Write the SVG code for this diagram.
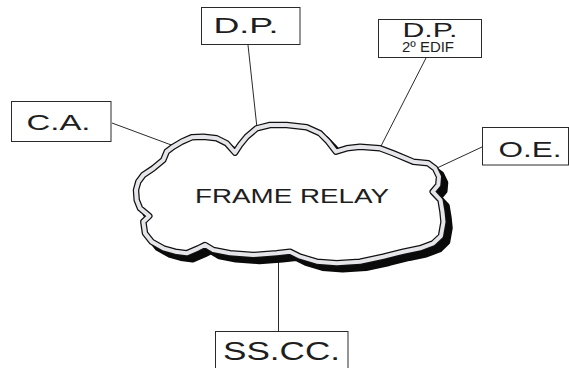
<svg xmlns="http://www.w3.org/2000/svg" width="569" height="368" viewBox="0 0 569 368">
  <style>
    .box { fill: #ffffff; stroke: #2a2a2a; stroke-width: 1; }
    .lbl { font-family: "Liberation Sans", Arial, sans-serif; fill: #1e1e1e; }
    .wire { stroke: #2a2a2a; stroke-width: 1; fill: none; }
    .cloud-edge { fill: #ffffff; stroke: #111111; stroke-width: 6.5; stroke-linejoin: round; }
    .cloud-band { fill: none; stroke: #e6e6ea; stroke-width: 4; stroke-linejoin: round; }
    .cloud-shadow { fill: #0a0a0a; stroke: #0a0a0a; stroke-width: 6.5; stroke-linejoin: round; }
  </style>
  <defs>
    <path id="cloud-shape" d="M235,152.7 L226.7,143.3 L216.7,138.3 L203.3,136.7 L191.7,137.3 L181.7,141.7 L173.3,146.7 L166.7,151.7 L163.3,160 L153.3,168.3 L143.3,175 L138.3,181.7 L136,190 L136.7,200 L140,208.3 L149.3,216 L143.3,221.7 L145,233.3 L151.7,241.7 L163.3,248.3 L175,251.7 L186.7,253.3 L198.3,248.3 L205,245 L213.3,250 L230,253.3 L253.3,255 L276.7,253.3 L290,251.7 L300,256.7 L316.7,261.7 L336.7,263.3 L360,261.7 L383.3,256.7 L403.3,251.7 L420,248.3 L433.3,243.3 L441,236 L443.5,222 L442.5,212 L440.5,200 L432.7,191.7 L438.3,185 L439,176.7 L435,168.3 L428.3,163.3 L413.3,161.7 L393.3,153.3 L380,148.3 L360,146.7 L346.7,148.3 L336,151.7 L328.3,141.7 L320,133.3 L306.7,127.3 L286.7,125 L270,125 L256.7,128.3 L246.7,136.7 L240,145 Z"/>
  </defs>

  <!-- links from each site to the network -->
  <g id="connectors">
    <line class="wire" x1="112" y1="123" x2="174" y2="146"/>
    <line class="wire" x1="248" y1="45" x2="257" y2="128"/>
    <line class="wire" x1="426" y1="58" x2="380" y2="148"/>
    <line class="wire" x1="482" y1="147" x2="437" y2="168"/>
    <line class="wire" x1="278.5" y1="262" x2="278.5" y2="332"/>
  </g>

  <!-- network cloud -->
  <g id="frame-relay">
    <use href="#cloud-shape" class="cloud-shadow" transform="translate(6,6)"/>
    <use href="#cloud-shape" class="cloud-edge"/>
    <use href="#cloud-shape" class="cloud-band"/>
    <text class="lbl" x="195" y="203" font-size="20" textLength="194" lengthAdjust="spacingAndGlyphs">FRAME RELAY</text>
  </g>

  <g id="ca">
    <rect class="box" x="11.5" y="101.5" width="99.5" height="40"/>
    <text class="lbl" x="26.5" y="130" font-size="22.4" textLength="64" lengthAdjust="spacingAndGlyphs">C.A.</text>
  </g>

  <g id="dp">
    <rect class="box" x="201.5" y="7.5" width="98.5" height="37"/>
    <text class="lbl" x="213.5" y="33.3" font-size="22.5" textLength="65" lengthAdjust="spacingAndGlyphs">D.P.</text>
  </g>

  <g id="dp-edif">
    <rect class="box" x="378.5" y="19.5" width="103" height="38"/>
    <text class="lbl" x="402.5" y="36.7" font-size="21" textLength="55" lengthAdjust="spacingAndGlyphs">D.P.</text>
    <text class="lbl" x="402" y="52.3" font-size="14.5" textLength="52" lengthAdjust="spacingAndGlyphs">2º EDIF</text>
  </g>

  <g id="oe">
    <rect class="box" x="482.5" y="127.5" width="86" height="37.5"/>
    <text class="lbl" x="498.5" y="156.7" font-size="22" textLength="63" lengthAdjust="spacingAndGlyphs">O.E.</text>
  </g>

  <g id="sscc">
    <rect class="box" x="215.5" y="331.5" width="132.5" height="40"/>
    <text class="lbl" x="223" y="360" font-size="25.5" textLength="117" lengthAdjust="spacingAndGlyphs">SS.CC.</text>
  </g>
</svg>
